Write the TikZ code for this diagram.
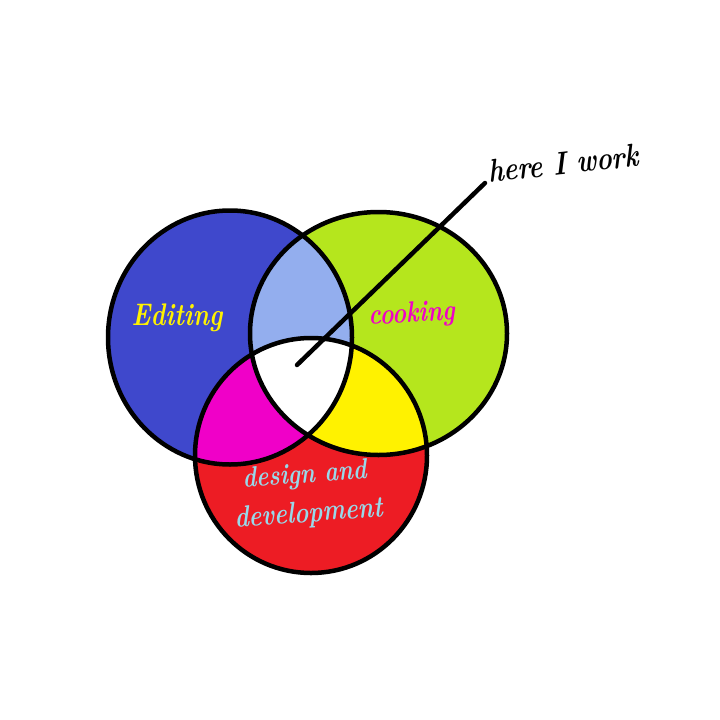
\documentclass[tikz,border=0pt]{standalone}
\usetikzlibrary{positioning}
\definecolor{EditBlue}{RGB}{63,72,204}
\definecolor{CookGreen}{RGB}{181,230,29}
\definecolor{DevRed}{RGB}{237,28,36}
\definecolor{PaleBlue}{RGB}{147,174,238}
\definecolor{HotPink}{RGB}{240,0,200}
\definecolor{SunYellow}{RGB}{255,242,0}
\definecolor{IceBlue}{RGB}{153,217,234}

\def\editring{(230,337.5) ellipse[x radius=122pt,y radius=127pt]}
\def\cookring{(378.5,333.5) ellipse[x radius=128.5pt,y radius=121.5pt]}
\def\devring{(311,455.5) ellipse[x radius=116pt,y radius=117.5pt]}

\begin{document}
\begin{tikzpicture}[x=1pt,y=-1pt,
  ring/.style={draw=black,line width=4.5pt},
  lbl/.style={inner sep=0pt,yscale=1.25,
    font=\bfseries\itshape\fontsize{#1}{#1}\selectfont},
  pointer/.style={line width=4.5pt,line cap=round}
]
  \fill[white] (0,0) rectangle (720,720);
  \useasboundingbox (0,0) rectangle (720,720);
  % the three sets
  \fill[EditBlue] \editring;
  \fill[CookGreen] \cookring;
  \fill[DevRed] \devring;
  % two-way overlaps
  \begin{scope}
    \clip \editring;
    \fill[PaleBlue] \cookring;
    \fill[HotPink] \devring;
  \end{scope}
  \begin{scope}
    \clip \cookring;
    \fill[SunYellow] \devring;
  \end{scope}
  % all three
  \begin{scope}
    \clip \editring;
    \clip \cookring;
    \fill[white] \devring;
  \end{scope}
  \draw[ring] \editring;
  \draw[ring] \cookring;
  \draw[ring] \devring;
  % labels
  \node[lbl=25,text=SunYellow,anchor=base] (edit) at (177,325) {Editing};
  \node[lbl=23.5,text=HotPink,anchor=base,rotate=3] (cook) at (412,322) {cooking};
  \node[lbl=23,text=IceBlue,anchor=base,rotate=3.5] (dsg) at (305,483) {design and};
  \node[lbl=24,text=IceBlue,anchor=base,rotate=3.5] (dev) at (309,522) {development};
  \node[lbl=26,anchor=base west,inner xsep=4pt,rotate=5] (here) at (485,183) {here I work};
  \coordinate (work) at (297,365);
  \draw[pointer] (work) -- (here.base west);
\end{tikzpicture}
\end{document}
